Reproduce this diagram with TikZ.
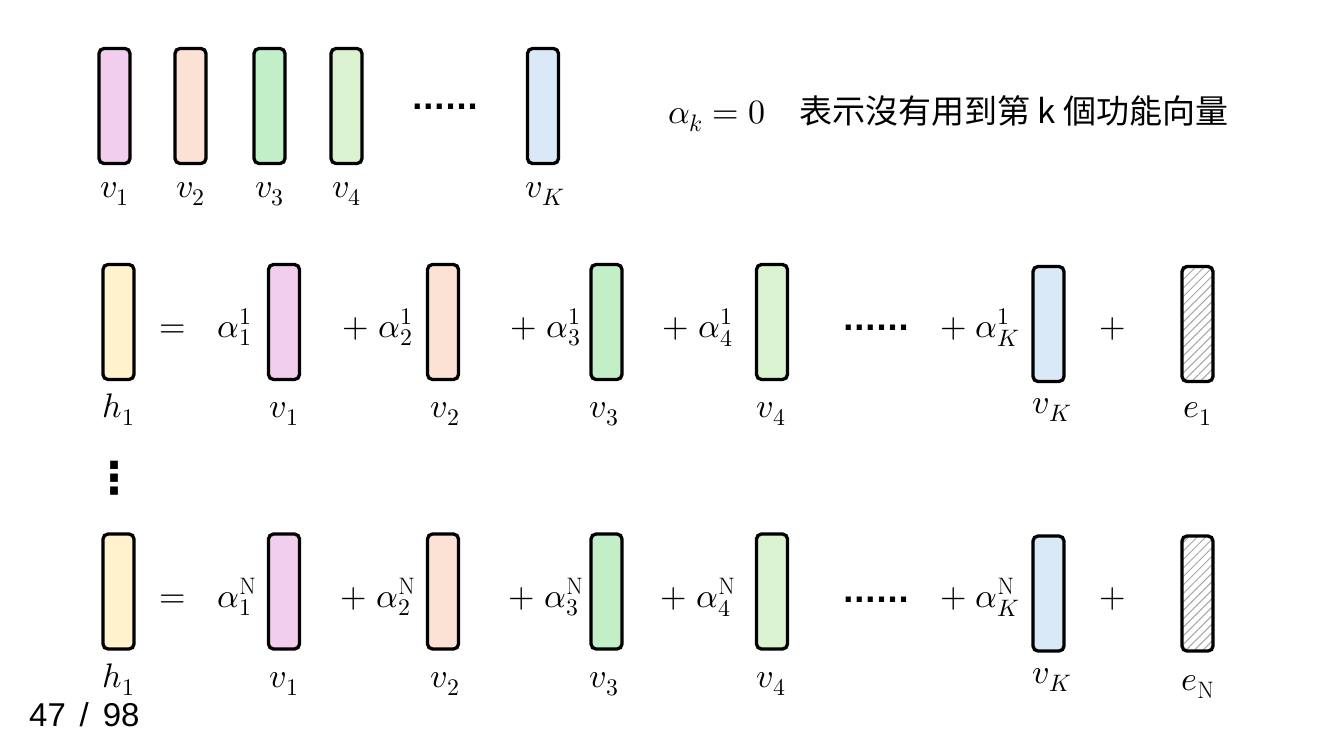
\documentclass[tikz,border=0pt]{standalone}
\usepackage{amsmath}
\usepackage{fontspec}
\usepackage{unicode-math}
\setmathfont{Latin Modern Math}
\usepackage{tikz}
\usetikzlibrary{patterns,patterns.meta}
\usetikzlibrary{shapes,positioning,calc}
\newfontfamily\cjkfont{Noto Sans CJK TC}
\newfontfamily\dotfont{DejaVu Sans}
\newfontfamily\pagefont{Liberation Sans}
\definecolor{vpink}{HTML}{F1CDEE}
\definecolor{vpeach}{HTML}{FBE2D5}
\definecolor{vgreen}{HTML}{C3EFC8}
\definecolor{vlime}{HTML}{DAF2D0}
\definecolor{vblue}{HTML}{DAE9F7}
\definecolor{hyellow}{HTML}{FFF2CC}
\tikzstyle{vec} = [rectangle, 
rounded corners=5pt, minimum width=31pt, minimum height=115pt, inner sep=0pt, draw=black, line width=3.3pt]
\tikzstyle{err} = [vec, pattern={Lines[angle=45,distance=6pt,line width=1pt]}, pattern color=black!35]
\tikzstyle{lab} = [anchor=base, inner sep=0pt]
\tikzstyle{dots} = [inner sep=0pt, font=\dotfont\bfseries\fontsize{29}{32}\selectfont]

\begin{document}
\begin{tikzpicture}[x=1pt, y=-1pt, font=\fontsize{34}{40}\selectfont]
						\useasboundingbox[fill=white] (0,0) rectangle (1334,750);
						\node (a1) at (114.5,106) [vec, fill=vpink] {};
						\node (a2) at (190.5,106) [vec, fill=vpeach] {};
						\node (a3) at (269.5,106) [vec, fill=vgreen] {};
						\node (a4) at (346.5,106) [vec, fill=vlime] {};
						\node (aK) at (543,106) [vec, fill=vblue] {};
						\node (adots) at (445,107) [dots] {......};
						\node (la1) at (114.5,197) [lab] {$v_1$};
						\node (la2) at (190.5,197) [lab] {$v_2$};
						\node (la3) at (269.5,197) [lab] {$v_3$};
						\node (la4) at (346.5,197) [lab] {$v_4$};
						\node (laK) at (545,197) [lab] {$v_K$};
						\node (note) at (668,123) [anchor=base west, inner sep=0pt] {$\alpha_k = 0$\quad{\cjkfont\fontsize{33}{40}\selectfont 表示沒有用到第 k 個功能向量}};
						
						\node (h1) at (118.5,322) [vec, fill=hyellow] {};
						\node (b1) at (284,322) [vec, fill=vpink] {};
						\node (b2) at (443,322) [vec, fill=vpeach] {};
						\node (b3) at (606.5,322) [vec, fill=vgreen] {};
						\node (b4) at (772,322) [vec, fill=vlime] {};
						\node (bK) at (1048.5,324) [vec, fill=vblue] {};
						\node (e1) at (1197.5,324) [err] {};
						\node (beq) at (173,337) [lab] {$=$};
						\node (bc1) at (235,337) [lab] {$\alpha_1^1$};
						\node (bc2) at (378,337) [lab] {$+\;\alpha_2^1$};
						\node (bc3) at (546,337) [lab] {$+\;\alpha_3^1$};
						\node (bc4) at (698,337) [lab] {$+\;\alpha_4^1$};
						\node (bdots) at (876,328) [dots] {......};
						\node (bcK) at (980,337) [lab] {$+\;\alpha_K^1$};
						\node (bplus) at (1113,337) [lab] {$+$};
						\node (lh1) at (118.5,417) [lab] {$h_1$};
						\node (lb1) at (284,417) [lab] {$v_1$};
						\node (lb2) at (445,417) [lab] {$v_2$};
						\node (lb3) at (604,417) [lab] {$v_3$};
						\node (lb4) at (771,417) [lab] {$v_4$};
						\node (lbK) at (1052,413) [lab] {$v_K$};
						\node (le1) at (1198,417) [lab] {$e_1$};
						
						\node (vdots) at (114,478) [inner sep=0pt, font=\dotfont\bfseries\fontsize{44}{48}\selectfont] {⋮};
						
						\node (hN) at (118.5,591.5) [vec, fill=hyellow] {};
						\node (c1) at (284,591.5) [vec, fill=vpink] {};
						\node (c2) at (443,591.5) [vec, fill=vpeach] {};
						\node (c3) at (606.5,591.5) [vec, fill=vgreen] {};
						\node (c4) at (772,591.5) [vec, fill=vlime] {};
						\node (cK) at (1048.5,593.5) [vec, fill=vblue] {};
						\node (eN) at (1197.5,593.5) [err] {};
						\node (ceq) at (173,607) [lab] {$=$};
						\node (cc1) at (237,607) [lab] {$\alpha_1^{\mathrm{N}}$};
						\node (cc2) at (378,607) [lab] {$+\;\alpha_2^{\mathrm{N}}$};
						\node (cc3) at (546,607) [lab] {$+\;\alpha_3^{\mathrm{N}}$};
						\node (cc4) at (698,607) [lab] {$+\;\alpha_4^{\mathrm{N}}$};
						\node (cdots) at (876,600) [dots] {......};
						\node (ccK) at (980,607) [lab] {$+\;\alpha_K^{\mathrm{N}}$};
						\node (cplus) at (1113,607) [lab] {$+$};
						\node (lhN) at (118.5,687) [lab] {$h_1$};
						\node (lc1) at (284,687) [lab] {$v_1$};
						\node (lc2) at (445,687) [lab] {$v_2$};
						\node (lc3) at (604,687) [lab] {$v_3$};
						\node (lc4) at (771,687) [lab] {$v_4$};
						\node (lcK) at (1052,683) [lab] {$v_K$};
						\node (leN) at (1198,690) [lab] {$e_{\mathrm{N}}$};
						
						\node (page) at (29,726) [anchor=base west, inner sep=0pt, font=\pagefont\fontsize{33}{36}\selectfont] {47\hspace{0.42em}/\hspace{0.42em}98};
					\end{tikzpicture}
\end{document}
